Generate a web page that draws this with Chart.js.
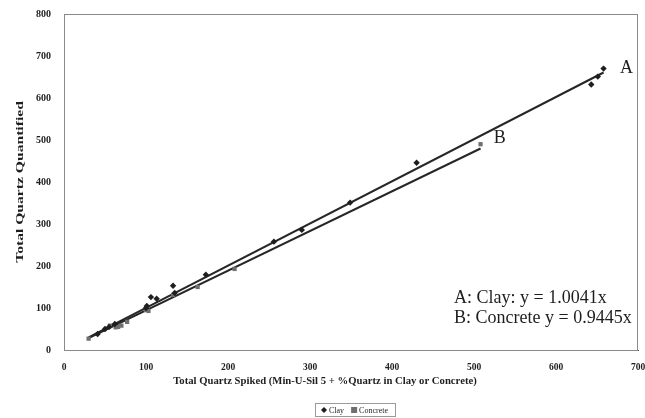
<!DOCTYPE html>
<html>
<head>
<meta charset="utf-8">
<script src="https://cdn.jsdelivr.net/npm/chart.js@4.4.1/dist/chart.umd.min.js"></script>
<style>
  html, body { margin: 0; padding: 0; background: #fff; }
  #wrap { position: relative; width: 645px; height: 418px; }
</style>
</head>
<body>
<div id="wrap"><canvas id="chart" width="645" height="418"></canvas></div>
<script>
// ── data ──
const clayX     = [41, 50, 55, 62, 100, 101, 106, 113, 133, 135, 173, 256, 290, 349, 430, 643, 651, 658];
const clayY     = [38, 50, 55, 62, 100, 105, 126, 122, 153, 136, 179, 258, 286, 351, 446, 632, 651, 670];
const concreteX = [30, 56, 63, 66, 70, 77, 100, 103, 133, 163, 208, 508];
const concreteY = [27, 58, 54, 55, 58, 67, 95, 93, 131, 150, 193, 490];

// trendlines (forced through zero), end points
const trendAX = [30, 658];
const trendAY = [30.1, 660.7];
const trendBX = [30, 508];
const trendBY = [28.3, 479.8];

const xTicks = [0, 100, 200, 300, 400, 500, 600, 700];
const yTicks = [0, 100, 200, 300, 400, 500, 600, 700, 800];

const xTitle = "Total Quartz Spiked (Min-U-Sil 5 + %Quartz in Clay or Concrete)";
const yTitle = "Total Quartz Quantified";
const eqLines = ["A: Clay: y = 1.0041x", "B: Concrete y = 0.9445x"];

const SERIF = "'Liberation Serif', 'DejaVu Serif', serif";
const INK = "#1e1e1e";

const pts = (xs, ys) => xs.map((x, i) => ({ x, y: ys[i] }));

// plot frame, axis titles (the y one stretched like the scan), labels A / B, equations, boxed legend
const extras = {
  id: "extras",
  beforeDatasetsDraw(chart) {
    const { ctx, chartArea: a } = chart;
    ctx.save();
    ctx.strokeStyle = "#8a8a8a";
    ctx.lineWidth = 1;
    ctx.strokeRect(a.left + 0.5, a.top + 0.5, a.right - a.left - 1, a.bottom - a.top);
    ctx.restore();
  },
  afterDraw(chart) {
    const { ctx, chartArea: a, scales } = chart;
    const xs = scales.x, ys = scales.y;
    ctx.save();
    ctx.fillStyle = INK;

    // y axis title
    ctx.save();
    ctx.translate(20, (a.top + a.bottom) / 2);
    ctx.rotate(-Math.PI / 2);
    ctx.scale(1.42, 1);
    ctx.font = "bold 11px " + SERIF;
    ctx.textAlign = "center";
    ctx.textBaseline = "middle";
    ctx.fillText(yTitle, 0, 0);
    ctx.restore();

    // x axis title
    ctx.font = "bold 10.7px " + SERIF;
    ctx.textAlign = "center";
    ctx.textBaseline = "middle";
    ctx.fillText(xTitle, 325, 381);

    ctx.font = "18px " + SERIF;
    ctx.textAlign = "left";
    ctx.fillText("A", xs.getPixelForValue(678), ys.getPixelForValue(670));
    ctx.fillText("B", xs.getPixelForValue(524), ys.getPixelForValue(504));

    ctx.fillText(eqLines[0], 454, 298);
    ctx.fillText(eqLines[1], 454, 318);

    // legend
    ctx.font = "8px " + SERIF;
    const items = [
      { label: "Clay", style: "diamond", color: INK },
      { label: "Concrete", style: "square", color: "#6f6f6f" },
    ];
    const widths = items.map((it) => 9 + ctx.measureText(it.label).width);
    const total = widths.reduce((s, w) => s + w, 0) + 6 * (items.length - 1) + 12;
    let x = 355 - total / 2;
    const cy = 410;
    ctx.strokeStyle = "#9a9a9a";
    ctx.lineWidth = 1;
    ctx.strokeRect(Math.round(x) + 0.5, cy - 6.5, Math.round(total), 13);
    x += 6;
    items.forEach((it, i) => {
      ctx.fillStyle = it.color;
      if (it.style === "diamond") {
        ctx.beginPath();
        ctx.moveTo(x + 3, cy - 3);
        ctx.lineTo(x + 6, cy);
        ctx.lineTo(x + 3, cy + 3);
        ctx.lineTo(x, cy);
        ctx.closePath();
        ctx.fill();
      } else {
        ctx.fillRect(x, cy - 3, 6, 6);
      }
      ctx.fillStyle = INK;
      ctx.fillText(it.label, x + 8, cy + 0.5);
      x += widths[i] + 6;
    });
    ctx.restore();
  },
};

new Chart(document.getElementById("chart"), {
  type: "scatter",
  data: {
    datasets: [
      {
        label: "Clay trend",
        type: "line",
        data: pts(trendAX, trendAY),
        borderColor: "#262626",
        borderWidth: 2,
        pointRadius: 0,
        fill: false,
        order: 2,
      },
      {
        label: "Concrete trend",
        type: "line",
        data: pts(trendBX, trendBY),
        borderColor: "#262626",
        borderWidth: 2,
        pointRadius: 0,
        fill: false,
        order: 2,
      },
      {
        label: "Clay",
        data: pts(clayX, clayY),
        pointStyle: "rectRot",
        pointRadius: 3.2,
        backgroundColor: INK,
        borderColor: INK,
        borderWidth: 0,
        order: 1,
      },
      {
        label: "Concrete",
        data: pts(concreteX, concreteY),
        pointStyle: "rect",
        pointRadius: 3,
        backgroundColor: "#6f6f6f",
        borderColor: "#6f6f6f",
        borderWidth: 0,
        order: 1,
      },
    ],
  },
  options: {
    responsive: false,
    animation: false,
    events: [],
    layout: { padding: { top: 14, right: 7, bottom: 30, left: 0 } },
    plugins: { legend: { display: false }, tooltip: { enabled: false } },
    scales: {
      x: {
        type: "linear",
        min: 0,
        max: 700,
        afterBuildTicks: (s) => { s.ticks = xTicks.map((v) => ({ value: v })); },
        afterFit: (s) => { s.height = 38; s.paddingLeft = 0; s.paddingRight = 0; },
        border: { color: "#555", width: 1 },
        grid: { display: false, drawOnChartArea: false, drawTicks: true, tickLength: 4, tickColor: "#555" },
        ticks: { color: INK, padding: 8, maxRotation: 0, font: { family: SERIF, size: 9.5, weight: "bold" } },
        title: { display: false },
      },
      y: {
        type: "linear",
        min: 0,
        max: 800,
        afterBuildTicks: (s) => { s.ticks = yTicks.map((v) => ({ value: v })); },
        afterFit: (s) => { s.width = 64; s.paddingTop = 0; s.paddingBottom = 0; },
        border: { color: "#555", width: 1 },
        grid: { display: false, drawOnChartArea: false, drawTicks: true, tickLength: 4, tickColor: "#555" },
        ticks: { color: INK, padding: 9, font: { family: SERIF, size: 10, weight: "bold" } },
        title: { display: false },
      },
    },
  },
  plugins: [extras],
});
</script>
</body>
</html>
